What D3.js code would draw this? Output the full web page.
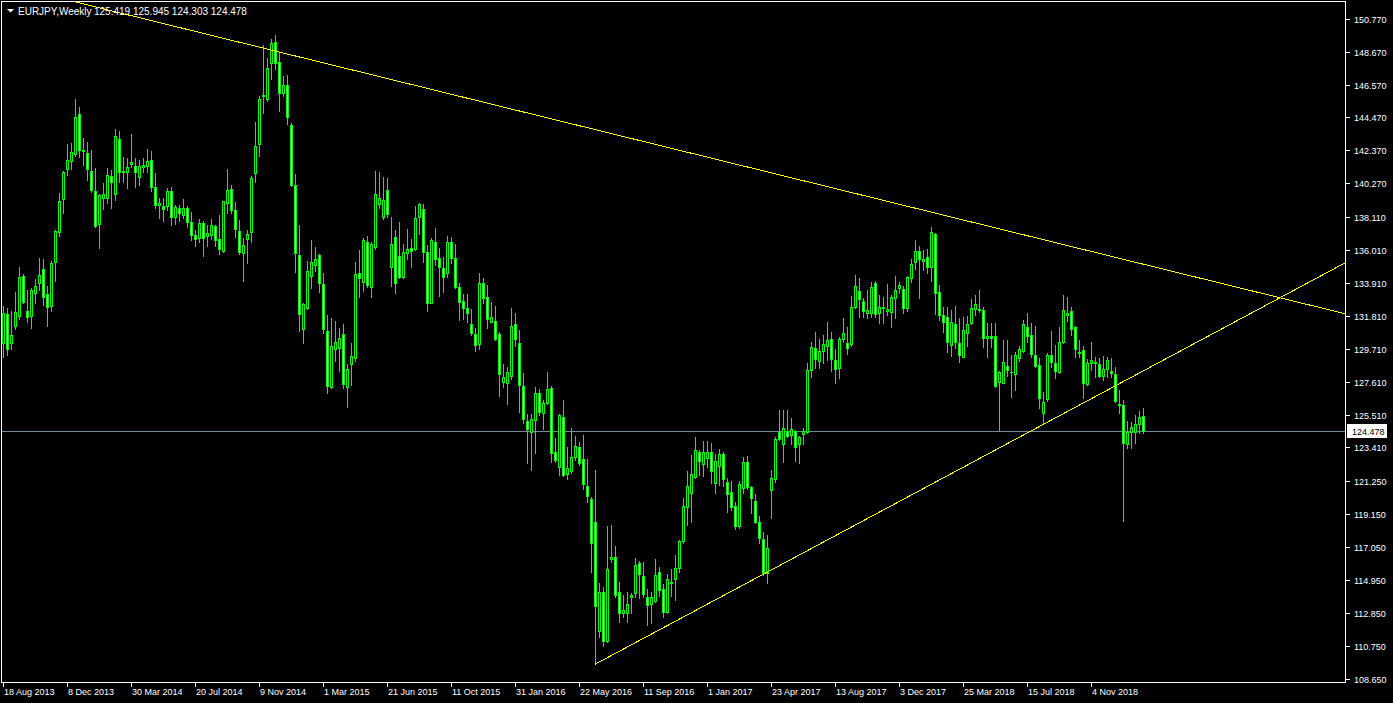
<!DOCTYPE html>
<html>
<head>
<meta charset="utf-8">
<script src="https://cdn.jsdelivr.net/npm/d3@7"></script>
<style>
  html, body { margin: 0; padding: 0; background: #000; overflow: hidden; }
  svg { display: block; }
  text { font-family: "Liberation Sans", Arial, sans-serif; }
</style>
</head>
<body>
<svg id="chart" width="1393" height="703"></svg>
<script>
// EURJPY weekly bars, one per week starting with the week of firstWeek
const symbol = "EURJPY";
const timeframe = "Weekly";
const firstWeek = "2013-08-18";

const open = [
  130.09,131.94,130.09,131.17,131.81,134.37,132.13,131.81,133.28,133.92,
  134.81,133.22,132.45,135.26,137.17,139.28,141.19,141.71,142.15,144.70,
  142.41,142.22,141.07,139.79,137.68,139.34,139.34,140.75,139.60,143.11,
  141.07,141.00,141.51,141.39,140.68,141.32,141.39,141.77,140.05,138.90,
  138.83,138.83,139.79,138.13,138.71,138.26,138.71,137.81,136.98,136.79,
  137.75,136.92,136.98,137.56,136.73,135.96,139.02,139.92,138.58,137.24,
  135.83,136.73,137.17,140.94,142.79,145.92,145.66,147.96,149.30,148.02,
  146.04,146.56,144.00,140.17,135.71,130.98,132.32,134.37,135.07,135.71,
  133.86,130.86,127.28,129.71,129.77,130.66,127.28,128.75,129.13,134.56,
  133.98,136.54,133.66,136.22,138.96,138.13,139.85,134.94,136.86,135.64,
  134.30,135.83,136.15,136.09,138.13,138.64,135.90,132.64,136.54,135.51,
  134.88,134.56,136.54,135.51,133.66,132.77,132.32,131.30,130.66,130.03,
  133.92,133.03,131.43,131.49,130.66,127.60,127.54,127.98,131.30,130.09,
  127.35,125.11,124.41,125.17,126.90,125.62,126.26,127.22,123.13,122.18,
  125.37,121.73,121.92,122.81,123.45,122.69,120.96,120.13,118.67,111.71,
  114.20,111.07,116.30,116.43,114.20,112.86,112.86,113.88,114.14,116.05,
  115.22,113.88,113.43,113.62,115.48,114.39,112.92,114.84,115.03,115.73,
  117.45,119.62,120.52,121.54,123.13,122.37,122.75,123.13,121.16,122.24,
  123.01,121.22,120.58,119.69,118.41,120.84,122.50,120.90,120.01,118.67,
  117.58,115.41,120.71,121.41,124.41,123.64,124.47,124.22,124.47,123.64,
  124.28,124.41,128.35,129.77,128.94,129.58,129.90,130.34,129.00,128.49,
  130.34,130.09,130.03,132.39,133.41,132.77,132.00,132.00,133.92,132.00,
  132.39,132.13,132.07,132.96,133.60,133.54,132.32,134.24,135.26,135.96,
  135.32,135.58,134.94,137.05,133.34,131.88,131.75,129.96,131.30,130.09,
  129.20,130.73,131.37,132.26,132.23,132.20,130.41,130.54,130.54,127.60,
  127.54,128.62,128.24,128.11,129.13,129.58,131.11,130.60,129.32,128.69,
  125.62,126.52,129.32,128.81,128.24,130.15,131.88,132.13,131.11,129.52,
  129.64,127.47,128.81,128.88,128.75,127.98,128.43,128.30,128.11,126.20,
  126.14,123.64,124.41,124.41,124.92,125.419
];

const high = [
  132.45,132.32,132.13,133.34,134.94,134.49,133.47,133.60,134.17,135.51,
  135.45,133.73,135.32,137.30,139.66,141.05,142.79,142.85,145.66,145.15,
  143.17,142.92,142.41,141.26,139.60,140.30,141.26,141.13,143.75,143.62,
  141.96,141.90,143.43,141.90,141.77,141.90,142.47,142.34,140.94,139.34,
  139.34,139.98,140.05,138.90,138.90,139.28,138.83,138.45,137.30,138.00,
  137.88,137.62,138.00,137.62,138.26,139.15,141.19,140.17,139.09,137.94,
  136.79,137.30,140.75,144.19,145.85,149.11,148.28,149.49,149.75,148.60,
  147.13,147.19,144.13,140.88,137.62,132.64,135.32,136.66,136.22,135.75,
  134.56,131.88,131.69,131.49,131.05,131.30,128.75,130.09,135.26,136.02,
  136.79,136.92,136.54,141.07,141.00,140.68,140.62,138.13,137.30,137.81,
  136.41,137.37,136.73,138.83,139.02,138.96,136.34,136.79,137.43,136.15,
  135.58,136.92,136.86,136.41,133.92,133.22,133.22,132.26,131.05,134.56,
  134.24,133.79,132.71,132.45,130.79,128.75,128.56,132.32,132.00,130.92,
  128.18,125.56,125.56,127.28,127.15,126.45,128.24,127.35,124.03,125.56,
  126.45,123.45,124.67,124.15,123.77,124.22,122.69,120.26,121.98,114.77,
  114.52,118.41,118.47,117.13,114.84,114.01,114.20,114.14,116.37,116.18,
  116.11,114.39,114.20,116.30,115.79,114.71,115.35,115.67,116.56,117.52,
  120.20,121.92,122.94,124.09,123.26,123.84,123.84,123.71,123.01,123.33,
  123.13,121.47,121.28,119.94,121.28,122.81,122.88,120.96,120.45,119.05,
  118.03,117.84,121.98,124.09,125.81,125.81,125.81,125.30,124.54,124.15,
  124.67,128.81,130.15,130.79,130.34,130.60,131.43,130.79,129.71,130.47,
  131.69,131.11,133.09,134.43,134.24,132.96,133.47,133.98,134.05,133.15,
  133.03,133.86,133.15,134.37,133.98,133.73,134.37,135.45,136.66,136.28,
  136.02,136.09,137.49,137.10,133.79,132.39,132.39,132.20,132.45,131.69,
  131.75,131.81,132.90,133.15,133.47,132.39,131.37,131.37,131.37,128.30,
  130.28,130.28,129.32,129.52,129.90,131.56,132.00,131.37,131.17,129.13,
  126.97,129.45,130.86,129.96,131.11,133.15,133.03,132.39,131.17,130.28,
  129.90,129.07,130.15,129.20,129.13,129.26,129.20,129.13,128.56,127.09,
  126.45,125.11,125.05,125.49,125.75,125.945
];

const low = [
  129.20,129.32,129.71,130.98,131.62,132.64,131.43,131.05,132.64,133.47,
  132.51,131.17,132.13,134.05,136.92,138.39,140.81,141.19,142.02,141.96,
  141.45,140.49,139.73,137.49,136.15,138.64,139.02,138.71,139.22,140.36,
  140.36,139.98,141.32,140.05,140.17,141.00,141.00,139.79,138.71,138.07,
  137.88,138.58,137.62,137.68,137.88,138.07,137.49,136.66,136.28,136.54,
  135.64,136.28,136.73,136.28,135.77,135.90,138.39,138.39,136.86,135.77,
  134.05,135.20,136.54,140.36,142.02,144.77,145.53,146.94,147.58,144.90,
  145.85,144.07,140.11,134.62,130.86,130.09,132.26,133.60,134.69,133.34,
  130.73,126.90,127.22,128.94,128.30,127.22,126.01,127.41,128.94,133.03,
  133.41,133.66,133.03,136.09,138.71,138.00,138.13,133.73,133.28,134.24,
  134.24,135.45,134.94,136.02,137.05,135.26,132.13,132.60,135.07,133.09,
  133.34,134.28,135.20,133.60,131.56,131.62,131.43,130.60,129.58,129.71,
  132.64,131.05,131.40,130.28,126.71,127.28,126.20,127.79,129.90,125.69,
  124.98,122.43,121.98,123.07,125.49,124.60,126.20,122.50,122.50,121.67,
  121.60,121.41,121.79,122.62,122.30,120.77,119.94,115.48,109.57,111.33,
  110.75,111.01,116.11,113.88,112.28,112.60,112.28,112.86,113.88,113.82,
  113.88,112.09,112.22,113.56,113.94,112.60,112.86,113.94,113.69,115.48,
  117.33,118.47,118.67,121.47,121.67,121.60,122.18,121.16,120.52,121.03,
  120.96,119.30,119.43,118.22,118.28,120.52,120.77,119.24,118.60,117.33,
  115.28,114.77,118.92,121.22,123.90,122.50,124.09,123.64,122.56,122.43,
  123.64,124.35,127.92,128.49,128.49,128.81,129.00,128.30,127.54,127.86,
  130.15,129.39,129.90,132.32,131.75,131.75,131.69,131.75,131.75,131.37,
  131.37,131.88,131.11,131.69,133.28,132.00,132.13,133.98,134.81,132.96,
  134.75,134.56,134.05,131.94,131.56,130.79,129.52,129.26,129.77,128.88,
  129.18,129.90,131.30,131.88,132.07,129.83,129.20,129.83,127.28,124.54,
  127.52,127.98,126.65,127.09,128.94,129.52,130.15,129.20,128.56,125.94,
  124.92,126.39,128.56,127.86,128.17,130.09,131.49,130.60,129.20,129.20,
  126.58,127.41,128.37,127.92,127.92,127.73,127.92,127.92,126.33,125.62,
  118.73,123.39,123.39,123.71,124.35,124.303
];

const close = [
  132.00,129.71,130.60,132.07,134.30,132.71,131.75,133.47,133.73,134.43,
  133.03,132.39,135.20,137.24,139.15,141.00,141.77,142.28,144.51,142.41,
  142.34,141.19,139.85,137.55,139.54,139.60,140.81,140.36,143.30,141.00,
  141.00,141.32,141.64,141.00,141.39,141.45,141.71,140.05,138.90,139.02,
  138.64,139.79,138.13,138.77,138.39,138.71,137.81,136.98,136.73,137.75,
  136.79,137.11,137.62,136.66,136.09,139.12,139.85,138.58,137.37,135.90,
  136.34,137.05,140.62,142.66,145.66,145.85,147.64,149.24,147.96,146.04,
  146.56,144.51,140.17,135.83,131.94,132.58,134.69,135.26,135.45,133.92,
  130.98,127.35,129.90,130.15,130.41,127.47,128.43,129.26,134.49,134.24,
  136.66,133.79,136.41,139.60,139.34,139.22,138.32,136.41,133.92,134.30,
  135.90,136.09,135.96,138.07,138.96,135.90,132.64,136.66,135.45,134.94,
  134.30,136.54,135.51,133.66,132.71,132.32,132.00,130.73,129.96,133.92,
  132.96,131.62,131.75,130.34,128.11,127.92,128.24,131.17,130.34,127.41,
  125.24,124.60,125.24,126.90,125.69,126.26,127.15,123.07,122.62,125.49,
  121.67,122.11,122.81,123.52,122.43,121.09,120.33,117.33,113.31,114.20,
  111.07,115.67,116.43,114.01,112.86,113.05,113.43,114.01,115.92,115.35,
  114.07,113.37,113.88,115.28,114.33,112.92,115.03,114.77,115.73,117.45,
  119.69,120.93,121.73,123.26,122.56,123.13,123.13,121.92,122.56,123.01,
  121.41,120.45,119.62,118.41,121.09,122.50,120.90,120.20,118.67,117.65,
  115.40,117.01,121.47,123.96,123.93,124.67,124.15,124.60,123.45,124.09,
  124.47,128.37,129.83,129.07,129.58,130.03,130.28,129.07,128.43,130.34,
  130.73,129.77,132.39,133.73,132.90,132.13,132.20,133.66,131.94,132.39,
  132.32,132.26,133.03,133.47,133.79,132.32,134.30,135.13,135.96,135.45,
  135.45,134.94,137.17,133.28,131.88,131.43,130.15,131.43,130.15,129.32,
  130.92,131.30,132.32,132.58,132.20,130.41,130.54,130.41,127.35,128.20,
  128.88,128.37,128.20,129.32,129.71,131.30,130.54,129.39,128.62,126.58,
  126.32,129.32,128.88,128.30,130.15,132.20,132.00,130.98,129.71,129.45,
  127.54,128.81,129.00,128.81,127.98,128.43,129.00,128.17,126.36,126.14,
  123.71,124.41,124.73,124.92,125.37,124.478
];

// price scale labels on the right
const priceTicks = [
  150.770, 148.670, 146.570, 144.470, 142.370, 140.270, 138.110,
  136.010, 133.910, 131.810, 129.710, 127.610, 125.510, 123.410,
  121.250, 119.150, 117.050, 114.950, 112.850, 110.750, 108.650
];

// time scale labels along the bottom
const dateTicks = [
  "18 Aug 2013", "8 Dec 2013", "30 Mar 2014", "20 Jul 2014", "9 Nov 2014",
  "1 Mar 2015", "21 Jun 2015", "11 Oct 2015", "31 Jan 2016", "22 May 2016",
  "11 Sep 2016", "1 Jan 2017", "23 Apr 2017", "13 Aug 2017", "3 Dec 2017",
  "25 Mar 2018", "15 Jul 2018", "4 Nov 2018"
];

// trend lines: two anchors each (week number, price), drawn as rays to the right
const resistanceLine = [ { week: 16, price: 151.97 }, { week: 232, price: 138.43 } ];
const supportLine    = [ { week: 148, price: 109.57 }, { week: 260, price: 124.87 } ];

// ---------------------------------------------------------------------------

const W = 1393, H = 703;
const frame = { left: 1.5, top: 1.5, right: 1345.5, bottom: 682.5 };
const LIME = "#00ff00", YELLOW = "#ffff00", BIDLINE = "#778899";

const start = d3.utcParse("%Y-%m-%d")(firstWeek);
const WEEK_MS = 7 * 864e5;
const weekAt = w => new Date(start.getTime() + w * WEEK_MS);

const bars = open.map((o, i) => ({
  date: weekAt(i), o, h: high[i], l: low[i], c: close[i]
}));

const x = d3.scaleUtc()
  .domain([weekAt(-0.75), weekAt(335.75)])
  .range([0, 1346]);

const y = d3.scaleLinear()
  .domain([108.65, 150.77])
  .range([678.7, 18.7]);

const svg = d3.select("#chart");

svg.append("rect").attr("width", W).attr("height", H).attr("fill", "#000");

svg.append("defs").append("clipPath").attr("id", "plotClip")
  .append("rect")
  .attr("x", 2).attr("y", 2)
  .attr("width", 1343).attr("height", 680);

const plotG = svg.append("g").attr("clip-path", "url(#plotClip)");

// bid line at the last close
const last = bars[bars.length - 1];
const bidY = Math.round(y(last.c)) + 0.5;
plotG.append("line")
  .attr("x1", 2).attr("x2", 1345)
  .attr("y1", bidY).attr("y2", bidY)
  .attr("stroke", BIDLINE).attr("stroke-width", 1)
  .attr("shape-rendering", "crispEdges");

// candles
const candleG = plotG.append("g").attr("shape-rendering", "crispEdges");
bars.forEach(d => {
  const cx = Math.round(x(d.date));
  const yH = Math.round(y(d.h)), yL = Math.round(y(d.l));
  const yTop = Math.round(y(Math.max(d.o, d.c)));
  const yBot = Math.round(y(Math.min(d.o, d.c)));
  candleG.append("rect")
    .attr("x", cx).attr("y", yH)
    .attr("width", 1).attr("height", yL - yH + 1)
    .attr("fill", LIME);
  candleG.append("rect")
    .attr("x", cx - 1).attr("y", yTop)
    .attr("width", 3).attr("height", yBot - yTop + 1)
    .attr("fill", LIME);
  if (yBot - yTop >= 2) {
    candleG.append("rect")
      .attr("x", cx).attr("y", yTop + 1)
      .attr("width", 1).attr("height", yBot - yTop - 1)
      .attr("fill", d.c < d.o ? "#ffffff" : "#000000");
  }
});

// trend line rays
function rayEnd(anchors, endWeek) {
  const [a, b] = anchors;
  const slope = (b.price - a.price) / (b.week - a.week);
  return { week: endWeek, price: a.price + (endWeek - a.week) * slope };
}
[resistanceLine, supportLine].forEach(anchors => {
  const a = anchors[0];
  const e = rayEnd(anchors, 335.75);
  plotG.append("line")
    .attr("x1", x(weekAt(a.week))).attr("y1", y(a.price))
    .attr("x2", x(weekAt(e.week))).attr("y2", y(e.price))
    .attr("stroke", YELLOW).attr("stroke-width", 1)
    .attr("shape-rendering", "crispEdges");
});

// chart frame
svg.append("path")
  .attr("d", `M${frame.left},${frame.bottom}V${frame.top}H${frame.right}V${frame.bottom}H${frame.left}`)
  .attr("fill", "none").attr("stroke", "#ffffff").attr("stroke-width", 1)
  .attr("shape-rendering", "crispEdges");

// price axis
const priceG = svg.append("g");
priceTicks.forEach(v => {
  const yy = Math.round(y(v)) + 0.5;
  priceG.append("line")
    .attr("x1", 1346).attr("x2", 1350).attr("y1", yy).attr("y2", yy)
    .attr("stroke", "#ffffff").attr("shape-rendering", "crispEdges");
  priceG.append("text")
    .attr("x", 1354).attr("y", yy).attr("dy", "0.35em")
    .attr("font-size", 9).attr("fill", "#ffffff")
    .text(v.toFixed(3));
});

// last price marker
priceG.append("rect")
  .attr("x", 1347).attr("y", bidY - 7.5)
  .attr("width", 40).attr("height", 14)
  .attr("fill", "#ffffff");
priceG.append("text")
  .attr("x", 1352).attr("y", bidY).attr("dy", "0.35em")
  .attr("font-size", 9).attr("fill", "#000000")
  .text(last.c.toFixed(3));

// time axis
const parseLabel = d3.utcParse("%d %b %Y");
const timeG = svg.append("g");
dateTicks.forEach(label => {
  const xx = Math.round(x(parseLabel(label))) + 0.5;
  timeG.append("line")
    .attr("x1", xx).attr("x2", xx).attr("y1", 683).attr("y2", 687)
    .attr("stroke", "#ffffff").attr("shape-rendering", "crispEdges");
  timeG.append("text")
    .attr("x", xx + 0.5).attr("y", 695)
    .attr("font-size", 9).attr("fill", "#ffffff")
    .text(label);
});

// header: symbol, timeframe and last bar OHLC
const header = svg.append("g");
header.append("path")
  .attr("d", "M7,9H14L10.5,12.5Z")
  .attr("fill", "#ffffff");
const fmt = d3.format(".3f");
header.append("text")
  .attr("x", 18).attr("y", 15)
  .attr("font-size", 10).attr("fill", "#ffffff")
  .text(`${symbol},${timeframe}`);
header.append("text")
  .attr("x", 94).attr("y", 15)
  .attr("font-size", 10).attr("fill", "#ffffff")
  .text([last.o, last.h, last.l, last.c].map(fmt).join(" "));
</script>
</body>
</html>
